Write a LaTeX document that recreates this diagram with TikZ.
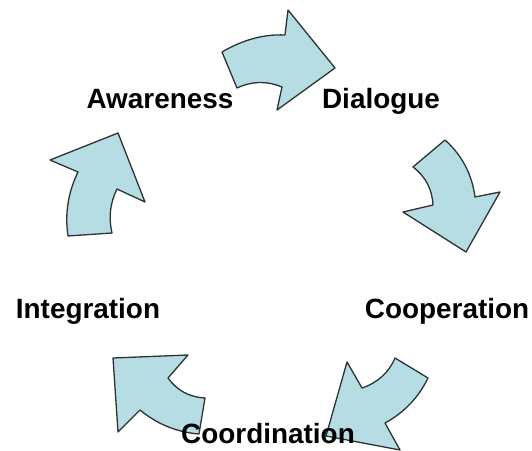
\documentclass[tikz,border=0pt]{standalone}
\usepackage{fontspec}
\setmainfont{Liberation Sans}
\definecolor{arrowfill}{RGB}{183,221,228}
\definecolor{arrowline}{RGB}{45,50,52}
\begin{document}
\begin{tikzpicture}[x=1bp,y=-1bp,
  cyclearrow/.style={fill=arrowfill,draw=arrowline,line width=1.3bp,line join=round},
  label/.style={font=\fontsize{28}{30}\selectfont\bfseries,anchor=base,inner sep=0pt,text=black}]
\useasboundingbox (0,0) rectangle (532,451);
% arrow Awareness -> Dialogue
\draw[cyclearrow] (222,52) .. controls (243,39.7) and (264,34) .. (285,35) -- (288,10) -- (335,68)
  -- (277,110) -- (282,87) .. controls (267,80.7) and (252,81) .. (237,88) -- cycle;
% arrow Dialogue -> Cooperation
\draw[cyclearrow] (413,167) -- (445,140) .. controls (462,155.3) and (472,174.3) .. (475,197) -- (500,192)
  -- (466,252) -- (403,212) -- (433,205) .. controls (432.2,189.2) and (425.6,176.6) .. (413,167) -- cycle;
% arrow Cooperation -> Coordination
\draw[cyclearrow] (395,358) -- (428,378) .. controls (418.5,397.6) and (404.1,412.6) .. (385,423) -- (400,450)
  -- (326,436) -- (347,362) -- (362,388) .. controls (377.8,382.6) and (388.8,372.6) .. (395,358) -- cycle;
% arrow Coordination -> Integration
\draw[cyclearrow] (113,358) -- (188,355) -- (168,378) .. controls (177.1,390.6) and (189.5,397.2) .. (205,398)
  -- (199,434) .. controls (176.8,432.2) and (157.2,424.2) .. (140,410) -- (118,432) -- cycle;
% arrow Integration -> Awareness
\draw[cyclearrow] (68,236) -- (112,233) .. controls (108.4,217.7) and (110,203.1) .. (117,189) -- (145,202)
  -- (118,133) -- (50,160) -- (78,172) .. controls (68.1,192.3) and (64.7,213.7) .. (68,236) -- cycle;
% labels
\node[label] (awareness) at (160,109) {Awareness};
\node[label] (dialogue) at (381,109) {Dialogue};
\node[label] (cooperation) at (447,318) {Cooperation};
\node[label] (integration) at (88,318) {Integration};
\node[label] (coordination) at (268,443) {Coordination};
\end{tikzpicture}
\end{document}
